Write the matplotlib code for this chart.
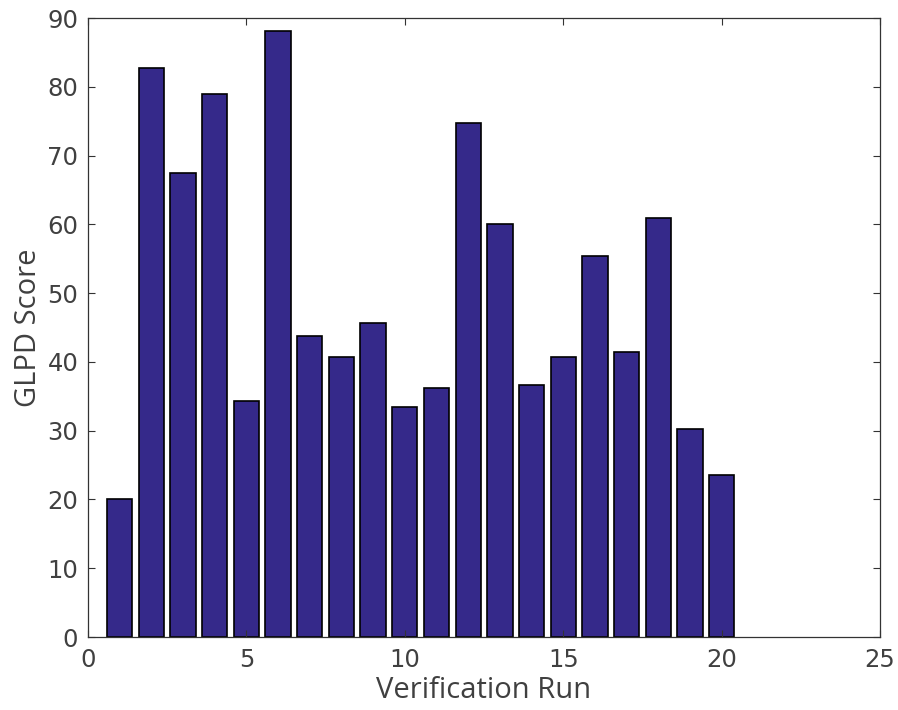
import matplotlib
matplotlib.use("Agg")
import matplotlib.pyplot as plt

# GLPD score for each verification run
runs = list(range(1, 21))
scores = [20.0, 82.8, 67.4, 79.0, 34.3, 88.1, 43.8, 40.7, 45.7, 33.5,
          36.2, 74.7, 60.0, 36.7, 40.7, 55.4, 41.4, 60.9, 30.2, 23.6]

fig = plt.figure(figsize=(8.98, 7.10), dpi=100)
ax = fig.add_axes([0.098, 0.1028, 0.882, 0.8718])

ax.bar(runs, scores, width=0.8, color='#35298a', edgecolor='black', linewidth=1.2)

ax.set_xlim(0, 25)
ax.set_ylim(0, 90)
ax.set_xticks([0, 5, 10, 15, 20, 25])
ax.set_yticks(range(0, 91, 10))
ax.tick_params(direction='in', top=True, right=True, length=5, width=0.8,
               labelsize=17.5, colors='#333333', labelcolor='#404040', pad=8)
ax.tick_params(axis='y', pad=7)
for s in ax.spines.values():
    s.set_linewidth(0.9)
    s.set_color('#333333')

label_font = dict(family='Open Sans', fontsize=21, color='#404040')
ax.set_xlabel('Verification Run', labelpad=3, **label_font)
ax.set_ylabel('GLPD Score', labelpad=3, **label_font)

fig.savefig('out.png', dpi=100)
